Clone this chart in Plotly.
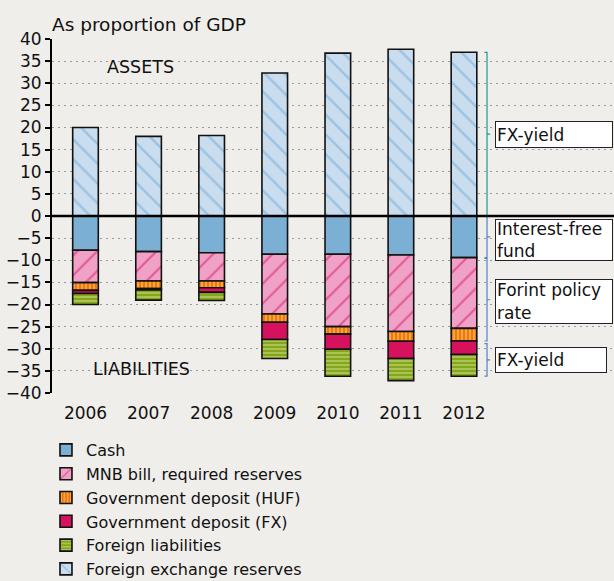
import plotly.graph_objects as go

years = [2006, 2007, 2008, 2009, 2010, 2011, 2012]
fx_reserves = [20.0, 18.0, 18.2, 32.3, 36.8, 37.7, 37.0]
cash = [7.75, 8.05, 8.3, 8.65, 8.65, 8.8, 9.4]
mnb_bill = [7.3, 6.65, 6.4, 13.5, 16.35, 17.3, 16.0]
gov_huf = [1.75, 1.7, 1.5, 1.85, 1.7, 2.2, 2.85]
gov_fx = [0.7, 0.3, 1.05, 3.9, 3.4, 3.9, 3.05]
foreign_liab = [2.5, 2.3, 1.85, 4.3, 6.1, 5.0, 4.9]

FONT = "DejaVu Sans"
BG = "#f0eeeb"

fig = go.Figure()

def neg(v):
    return [-a for a in v]

W = 0.406
line = dict(color="#111111", width=1.6)

fig.add_trace(go.Bar(name="Cash", x=years, y=neg(cash), width=W,
                     marker=dict(color="#7bafd4", line=line)))
fig.add_trace(go.Bar(name="MNB bill, required reserves", x=years, y=neg(mnb_bill), width=W,
                     marker=dict(color="#f0a2c6", line=line,
                                 pattern=dict(shape="/", fgcolor="#d4106a", bgcolor="#f0a2c6",
                                              fillmode="overlay", size=14, solidity=0.16))))
fig.add_trace(go.Bar(name="Government deposit (HUF)", x=years, y=neg(gov_huf), width=W,
                     marker=dict(color="#f07a00", line=line,
                                 pattern=dict(shape="|", fgcolor="#fde4c0", bgcolor="#f07a00",
                                              fillmode="overlay", size=4, solidity=0.4))))
fig.add_trace(go.Bar(name="Government deposit (FX)", x=years, y=neg(gov_fx), width=W,
                     marker=dict(color="#d6125f", line=line)))
fig.add_trace(go.Bar(name="Foreign liabilities", x=years, y=neg(foreign_liab), width=W,
                     marker=dict(color="#86a61a", line=line,
                                 pattern=dict(shape="-", fgcolor="#e2eeb0", bgcolor="#86a61a",
                                              fillmode="overlay", size=4, solidity=0.4))))
fig.add_trace(go.Bar(name="Foreign exchange reserves", x=years, y=fx_reserves, width=W,
                     marker=dict(color="#c9ddef", line=line,
                                 pattern=dict(shape="\\", fgcolor="#72a8d4", bgcolor="#c9ddef",
                                              fillmode="overlay", size=14, solidity=0.18))))

# braces (derived from the 2012 values)
i = len(years) - 1
xb = years[i] + 0.365
xh = xb - 0.04
xt = xb + 0.05
c1 = -cash[i]
c2 = -(cash[i] + mnb_bill[i] + gov_huf[i])
c3 = -(cash[i] + mnb_bill[i] + gov_huf[i] + gov_fx[i] + foreign_liab[i])
braces = [
    (0, fx_reserves[i], "#1a9c8c"),
    (0, c1, "#4f82c8"),
    (c1 - 0.2, c2, "#4f82c8"),
    (c2 - 0.6, c3, "#4f82c8"),
]
shapes = []
for y0, y1, col in braces:
    ym = (y0 + y1) / 2
    path = f"M{xh},{y0} L{xb},{y0} L{xb},{y1} L{xh},{y1} M{xb},{ym} L{xt},{ym}"
    shapes.append(dict(type="path", path=path, xref="x", yref="y",
                       line=dict(color=col, width=1.2)))
# zero line
shapes.append(dict(type="line", xref="paper", yref="y", x0=0, x1=1, y0=0, y1=0,
                   line=dict(color="#000000", width=2.5)))

annotations = [
    dict(text="As proportion of GDP", xref="paper", yref="paper", x=-0.004, y=1.042,
         xanchor="left", yanchor="middle", showarrow=False, font=dict(size=18.5)),
    dict(text="ASSETS", xref="x", yref="y", x=2006.875, y=33.7, showarrow=False,
         xanchor="center", yanchor="middle", font=dict(size=17.5)),
    dict(text="LIABILITIES", xref="x", yref="y", x=2006.88, y=-34.6, showarrow=False,
         xanchor="center", yanchor="middle", font=dict(size=17.5)),
]
boxes = [
    ("FX-yield", fx_reserves[i] / 2, 114, 23),
    ("Interest-free<br>fund", c1 / 2 - 0.8, 114, 38),
    ("Forint policy<br>rate", (c1 + c2) / 2 - 0.5, 114, 41),
    ("FX-yield", (c2 + c3) / 2 - 0.3, 108, 22),
]
for txt, yc, w, h in boxes:
    annotations.append(dict(text=txt, xref="x", yref="y", x=years[i] + 0.49, y=yc,
                            xanchor="left", yanchor="middle", showarrow=False,
                            align="left", width=w, height=h, bgcolor="#ffffff",
                            bordercolor="#222222", borderwidth=1, borderpad=1,
                            font=dict(size=17)))

fig.update_layout(
    width=614, height=581,
    barmode="relative",
    paper_bgcolor=BG, plot_bgcolor=BG,
    font=dict(family=FONT, size=17, color="#111111"),
    margin=dict(l=52, r=0, t=39, b=188, autoexpand=False),
    showlegend=True,
    legend=dict(x=-0.0107, y=0.2547, xref="paper", yref="container",
                xanchor="left", yanchor="top",
                traceorder="normal", bgcolor="rgba(0,0,0,0)",
                font=dict(size=16), tracegroupgap=0),
    shapes=shapes,
    annotations=annotations,
)
fig.update_xaxes(range=[2005.469, 2014.378], tickvals=years, ticktext=[str(y) for y in years],
                 showgrid=False, zeroline=False, showline=False, ticks="outside", ticklen=5,
                 tickcolor="rgba(0,0,0,0)", automargin=False, tickfont=dict(size=17))
fig.update_yaxes(range=[-40, 40], dtick=5, tick0=0, showgrid=True, gridcolor="#9a9a9a",
                 griddash="2px,4px", gridwidth=1.2, zeroline=False, showline=True,
                 linecolor="#000000", linewidth=2, ticks="outside", ticklen=5,
                 tickcolor="#000000", tickwidth=2, automargin=False, tickfont=dict(size=17))

fig.write_html(
    "out.html",
    config={"displayModeBar": False},
    post_script="document.body.style.margin='0';document.body.style.padding='0';"
                "document.body.style.overflow='hidden';",
)
